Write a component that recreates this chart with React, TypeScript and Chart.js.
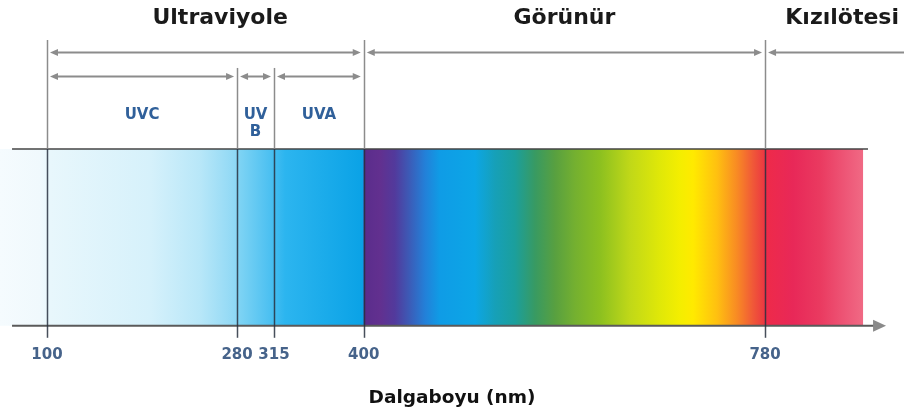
import { useEffect, useRef } from 'react';
import { Chart, registerables } from 'chart.js';

Chart.register(...registerables);

const FONT = '"DejaVu Sans", "Liberation Sans", sans-serif';

// Wavelength axis (nm)
const axisMinNm = 55.5;
const axisMaxNm = 911.6;
const tickValuesNm = [100, 280, 315, 400, 780];
const tickLabels = ['100', '280', '315', '400', '780'];
const axisTitle = 'Dalgaboyu (nm)';

// Main regions (top arrow row)
const regionNames = ['Ultraviyole', 'Görünür', 'Kızılötesi'];
const regionStartNm = [100, 400, 780];
const regionEndNm = [400, 780, 911.6];
const regionEndArrow = [true, true, false];
const regionLabelNm = [264, 590, 853];

// UV sub-bands (second arrow row)
const uvBandLabels = [['UVC'], ['UV', 'B'], ['UVA']];
const uvBandStartNm = [100, 280, 315];
const uvBandEndNm = [280, 315, 400];

// Boundary lines
const tallLinesNm = [100, 400, 780];
const shortLinesNm = [280, 315];

// Spectrum band
const bandStartNm = 55.5;
const bandEndNm = 873;
const bandBorderStartNm = 66.9;
const bandBorderEndNm = 877.5;
const axisLineEndNm = 894.6;
const spectrumStopNm = [
  55.5, 93.4, 102.8, 197.6, 244.9, 278.1, 282.8, 311.2, 325.4, 399.6,
  400, 415.3, 429.5, 441.9, 458, 472.2, 505.3, 524.3, 543.2, 562.2,
  581.1, 600, 623.7, 652.1, 680.6, 699.5, 711.8, 734.5, 753.5, 768.6,
  778.1, 781.9, 806.5, 832.1, 857.7, 873,
];
const spectrumStopColor = [
  '#f5fbfe', '#f0f9fd', '#e8f7fc', '#d6f1fb', '#b8e7f8', '#8fd8f5', '#7dd3f4', '#4cc0f1', '#2cb5ef', '#0aa2e6',
  '#5a2d8c', '#62308f', '#523a9c', '#3e58b4', '#2380d8', '#0f9ce6', '#0ca6e6', '#16a0b8', '#1b9f9c', '#389a62',
  '#58a040', '#74b030', '#8cc020', '#c0d818', '#e0e808', '#f4ee00', '#ffea00', '#ffc010', '#f88a24', '#f05838',
  '#ec3c40', '#ee2a4a', '#e82858', '#ea3a60', '#ee5878', '#f06a84',
];

// Vertical layout levels (units above the axis line)
const LV = {
  lineBottom: -12,
  axis: 0,
  bandTop: 177,
  subLabel: 211,
  subLabel2: 194,
  shortTop: 258,
  row2: 250,
  row1: 274,
  tallTop: 286,
  title: 308,
  top: 326,
};

function line(ctx: CanvasRenderingContext2D, x1: number, y1: number, x2: number, y2: number) {
  ctx.beginPath();
  ctx.moveTo(x1, y1);
  ctx.lineTo(x2, y2);
  ctx.stroke();
}

function head(ctx: CanvasRenderingContext2D, tipX: number, y: number, dir: number, len: number, half: number) {
  ctx.beginPath();
  ctx.moveTo(tipX, y);
  ctx.lineTo(tipX - dir * len, y - half);
  ctx.lineTo(tipX - dir * len, y + half);
  ctx.closePath();
  ctx.fill();
}

const annotate = {
  id: 'annotate',
  afterDatasetsDraw(chart: any) {
    const { ctx } = chart;
    const xs = chart.scales.x;
    const ys = chart.scales.y;
    const X = (v: number) => xs.getPixelForValue(v);
    const Y = (v: number) => ys.getPixelForValue(v);
    ctx.save();

    // axis arrowhead
    ctx.fillStyle = '#8a8a8a';
    head(ctx, X(axisLineEndNm), Y(LV.axis), 1, 13, 6);

    // vertical boundary lines
    const drawV = (nm: number, topLv: number) => {
      const x = Math.round(X(nm)) + 0.5;
      ctx.lineWidth = 1.5;
      ctx.strokeStyle = '#8c8c8c';
      line(ctx, x, Y(topLv), x, Y(LV.bandTop));
      ctx.strokeStyle = 'rgba(40,48,62,0.85)';
      line(ctx, x, Y(LV.bandTop), x, Y(LV.lineBottom));
    };
    tallLinesNm.forEach((nm) => drawV(nm, LV.tallTop));
    shortLinesNm.forEach((nm) => drawV(nm, LV.shortTop));

    // range arrows
    const gap = 3;
    const hl = 8;
    const hh = 3.5;
    const arrow = (a: number, b: number, lv: number, endHead: boolean) => {
      const y = Math.round(Y(lv)) + 0.5;
      const x1 = X(a) + gap;
      const x2 = endHead ? X(b) - gap : X(b);
      ctx.strokeStyle = '#8c8c8c';
      ctx.fillStyle = '#8c8c8c';
      ctx.lineWidth = 2;
      line(ctx, x1 + hl - 1, y, endHead ? x2 - hl + 1 : x2, y);
      head(ctx, x1, y, -1, hl, hh);
      if (endHead) head(ctx, x2, y, 1, hl, hh);
    };
    regionNames.forEach((_, i) => arrow(regionStartNm[i], regionEndNm[i], LV.row1, regionEndArrow[i]));
    uvBandLabels.forEach((_, i) => arrow(uvBandStartNm[i], uvBandEndNm[i], LV.row2, true));

    // region titles
    ctx.textAlign = 'center';
    ctx.textBaseline = 'middle';
    ctx.fillStyle = '#1a1a1a';
    ctx.font = `bold 22px ${FONT}`;
    regionNames.forEach((name, i) => ctx.fillText(name, X(regionLabelNm[i]), Y(LV.title)));

    // UV sub-band labels
    ctx.fillStyle = '#30609a';
    ctx.font = `bold 15px ${FONT}`;
    uvBandLabels.forEach((lines, i) => {
      const cx = X((uvBandStartNm[i] + uvBandEndNm[i]) / 2);
      ctx.fillText(lines[0], cx, Y(LV.subLabel));
      if (lines[1]) ctx.fillText(lines[1], cx, Y(LV.subLabel2));
    });

    ctx.restore();
  },
};

export default function App() {
  const ref = useRef<HTMLCanvasElement | null>(null);

  useEffect(() => {
    if (!ref.current) return;
    const gradient = (c: any) => {
      const chart = c.chart;
      if (!chart.chartArea) return 'rgba(0,0,0,0)';
      const xs = chart.scales.x;
      const x0 = xs.getPixelForValue(bandStartNm);
      const x1 = xs.getPixelForValue(bandEndNm);
      const g = chart.ctx.createLinearGradient(x0, 0, x1, 0);
      spectrumStopNm.forEach((nm, i) => {
        const t = (xs.getPixelForValue(nm) - x0) / (x1 - x0);
        g.addColorStop(Math.min(1, Math.max(0, t)), spectrumStopColor[i]);
      });
      return g;
    };

    const chart = new Chart(ref.current, {
      type: 'line',
      data: {
        datasets: [
          {
            label: 'axis',
            data: [
              { x: bandBorderStartNm, y: LV.axis },
              { x: axisLineEndNm - 5, y: LV.axis },
            ],
            borderColor: '#5a5a5a',
            borderWidth: 2,
            pointRadius: 0,
            fill: false,
          },
          {
            label: 'bandTop',
            data: [
              { x: bandBorderStartNm, y: LV.bandTop },
              { x: bandBorderEndNm, y: LV.bandTop },
            ],
            borderColor: '#454545',
            borderWidth: 1.5,
            pointRadius: 0,
            fill: false,
          },
          {
            label: 'spectrum',
            data: [
              { x: bandStartNm, y: LV.bandTop },
              { x: bandEndNm, y: LV.bandTop },
            ],
            borderWidth: 0,
            borderColor: 'rgba(0,0,0,0)',
            backgroundColor: gradient,
            pointRadius: 0,
            fill: 'origin',
          },
        ],
      },
      options: {
        animation: false,
        responsive: true,
        maintainAspectRatio: false,
        events: [],
        layout: { padding: 0 },
        plugins: { legend: { display: false }, tooltip: { enabled: false } },
        scales: {
          x: {
            type: 'linear',
            min: axisMinNm,
            max: axisMaxNm,
            grid: { display: false, drawTicks: false },
            border: { display: false },
            afterBuildTicks: (scale: any) => {
              scale.ticks = tickValuesNm.map((v) => ({ value: v }));
            },
            ticks: {
              autoSkip: false,
              maxRotation: 0,
              minRotation: 0,
              padding: 8,
              color: '#46638a',
              font: { family: FONT, size: 15, weight: 'bold' },
              callback: (_v: any, i: number) => tickLabels[i] ?? '',
            },
            title: {
              display: true,
              text: axisTitle,
              color: '#111111',
              font: { family: FONT, size: 18.5, weight: 'bold' },
              padding: { top: 15, bottom: 6 },
            },
          },
          y: {
            type: 'linear',
            display: false,
            min: LV.lineBottom,
            max: LV.top,
          },
        },
      } as any,
      plugins: [annotate],
    });
    return () => chart.destroy();
  }, []);

  return (
    <div style={{ position: 'fixed', left: 0, top: 0, width: 904, height: 415, background: '#ffffff' }}>
      <canvas ref={ref} />
    </div>
  );
}
